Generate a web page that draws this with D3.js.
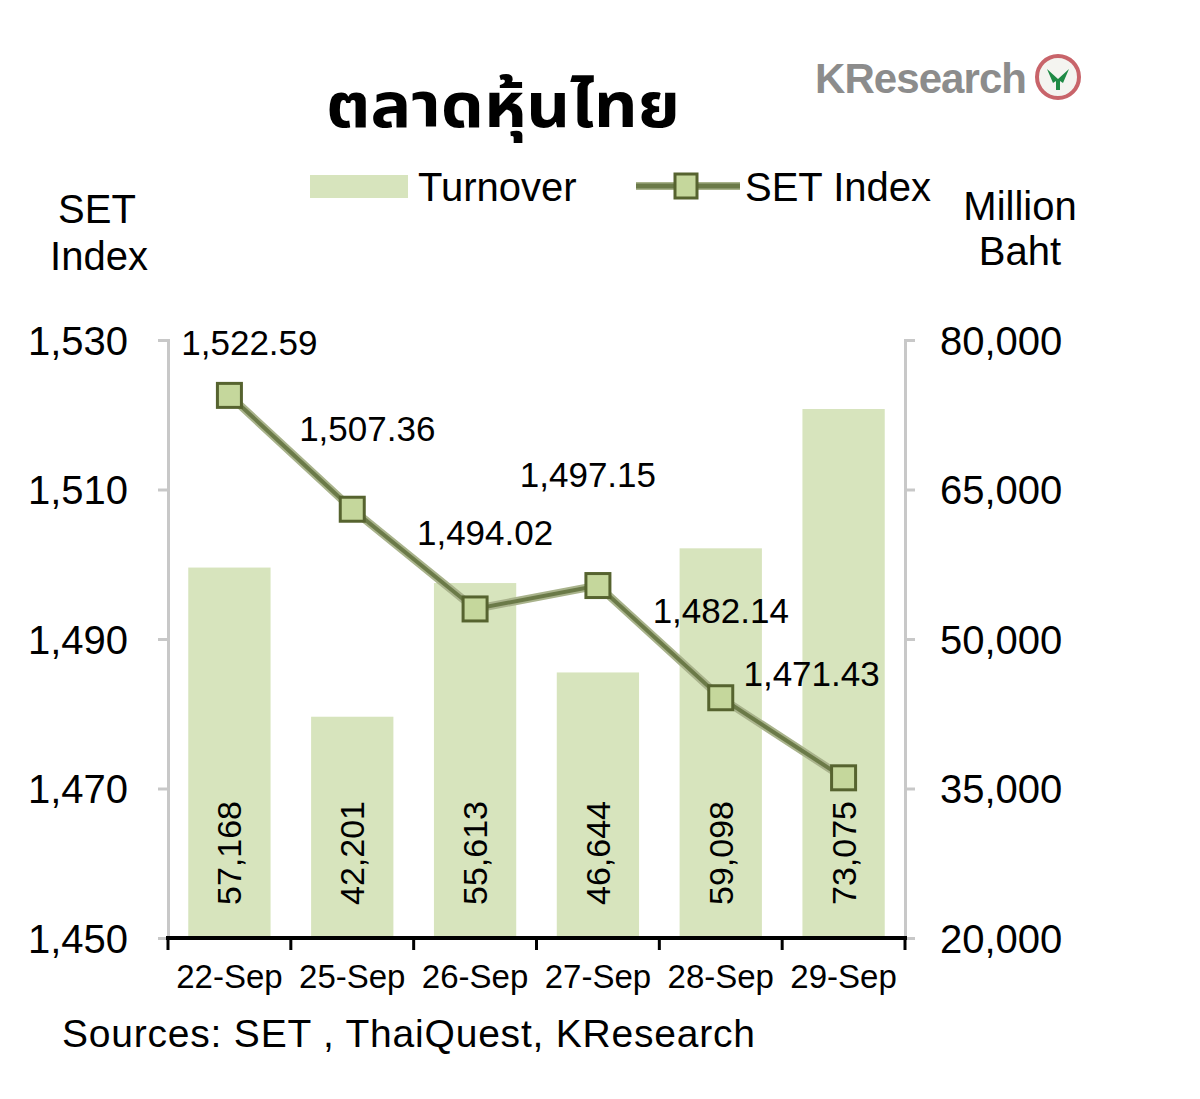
<!DOCTYPE html>
<html>
<head>
<meta charset="utf-8">
<script src="https://cdn.jsdelivr.net/npm/d3@7"></script>
<style>
  body { margin: 0; background: #fff; }
  text { font-family: "Liberation Sans", Arial, sans-serif; fill: #000; }
</style>
</head>
<body>
<script>
var w = 1200,
    h = 1099;

// data
const dates = ["22-Sep", "25-Sep", "26-Sep", "27-Sep", "28-Sep", "29-Sep"];
const turnover = [57168, 42201, 55613, 46644, 59098, 73075];
const setIndex = [1522.59, 1507.36, 1494.02, 1497.15, 1482.14, 1471.43];
const leftTicks = [1450, 1470, 1490, 1510, 1530];
const rightTicks = [20000, 35000, 50000, 65000, 80000];
// hand placed data labels, offset from marker (px)
const labelDx = [20, 15, 10, -10, 0, -32];
const labelDy = [-40, -68, -64, -99, -75, -92];

const barColor = "#d7e4bd",
      lineColor = "#6b7a48",
      markerFill = "#c5d79c",
      markerStroke = "#56632f",
      axisGray = "#c8c8c8";

var svg = d3.select("body").append("svg")
    .attr("width", w)
    .attr("height", h);

const x = d3.scaleBand().domain(dates).range([168, 905]).paddingInner(0.33).paddingOuter(0.165);
const yL = d3.scaleLinear().domain([1450, 1530]).range([938, 340]);
const yR = d3.scaleLinear().domain([20000, 80000]).range([938, 340]);
const cx = (d) => x(d) + x.bandwidth() / 2;

// title + logo
svg.append("text")
    .attr("x", 326).attr("y", 127)
    .attr("textLength", 354)
    .attr("lengthAdjust", "spacingAndGlyphs")
    .style("font-family", "'Noto Sans Thai', 'Noto Sans', 'DejaVu Sans', Tahoma, sans-serif")
    .style("font-weight", "bold")
    .style("font-size", "62px")
    .text("ตลาดหุ้นไทย");

svg.append("text")
    .attr("x", 815).attr("y", 93)
    .attr("textLength", 212)
    .style("font-weight", "bold")
    .style("font-size", "42px")
    .style("fill", "#8c8c8c")
    .text("KResearch");

var logo = svg.append("g").attr("transform", "translate(1058,77)");
logo.append("circle").attr("r", 21).attr("fill", "#f4f4f0")
    .attr("stroke", "#c8646a").attr("stroke-width", 4);
logo.append("path")
    .attr("d", "M-11,-8 L0,2 L11,-8 L5,6 L2,4 L2,13 L-2,13 L-2,4 L-5,6 Z")
    .attr("fill", "#1f8a45");

// legend
svg.append("rect").attr("x", 310).attr("y", 175).attr("width", 98).attr("height", 23).attr("fill", barColor);
svg.append("text").attr("x", 418).attr("y", 201).style("font-size", "40px").text("Turnover");
svg.append("line").attr("x1", 636).attr("x2", 740).attr("y1", 186).attr("y2", 186)
    .attr("stroke", "#a9b38c").attr("stroke-width", 8);
svg.append("line").attr("x1", 636).attr("x2", 740).attr("y1", 186).attr("y2", 186)
    .attr("stroke", lineColor).attr("stroke-width", 5);
svg.append("rect").attr("x", 675).attr("y", 174).attr("width", 22).attr("height", 24)
    .attr("fill", markerFill).attr("stroke", markerStroke).attr("stroke-width", 3);
svg.append("text").attr("x", 745).attr("y", 201).style("font-size", "40px").text("SET Index");

// axis titles
svg.append("text").attr("x", 97).attr("y", 223).attr("text-anchor", "middle").style("font-size", "40px").text("SET");
svg.append("text").attr("x", 99).attr("y", 270).attr("text-anchor", "middle").style("font-size", "40px").text("Index");
svg.append("text").attr("x", 1020).attr("y", 220).attr("text-anchor", "middle").style("font-size", "40px").text("Million");
svg.append("text").attr("x", 1020).attr("y", 265).attr("text-anchor", "middle").style("font-size", "40px").text("Baht");

// bars
svg.selectAll("rect.bar")
    .data(turnover)
    .enter().append("rect")
    .attr("class", "bar")
    .attr("x", (d, i) => x(dates[i]))
    .attr("width", x.bandwidth())
    .attr("y", (d) => yR(d))
    .attr("height", (d) => yR(20000) - yR(d))
    .attr("fill", barColor);

// bar value labels (rotated)
svg.selectAll("text.barlab")
    .data(turnover)
    .enter().append("text")
    .attr("class", "barlab")
    .attr("transform", (d, i) => "translate(" + (cx(dates[i]) + 12) + "," + 905 + ") rotate(-90)")
    .style("font-size", "34px")
    .text((d) => d3.format(",")(d));

// left axis
var leftAxis = svg.append("g")
    .attr("transform", "translate(168,0)")
    .call(d3.axisLeft(yL).tickValues(leftTicks).tickFormat(d3.format(",")).tickSize(10).tickPadding(30));
leftAxis.select(".domain").attr("stroke", axisGray).attr("stroke-width", 3);
leftAxis.selectAll(".tick line").attr("stroke", axisGray).attr("stroke-width", 3);
leftAxis.selectAll(".tick text").style("font-size", "40px").style("font-family", "'Liberation Sans', Arial, sans-serif").attr("fill", "#000").attr("dy", "0.36em");

// right axis
var rightAxis = svg.append("g")
    .attr("transform", "translate(905,0)")
    .call(d3.axisRight(yR).tickValues(rightTicks).tickFormat(d3.format(",")).tickSize(10).tickPadding(25));
rightAxis.select(".domain").attr("stroke", axisGray).attr("stroke-width", 3);
rightAxis.selectAll(".tick line").attr("stroke", axisGray).attr("stroke-width", 3);
rightAxis.selectAll(".tick text").style("font-size", "40px").style("font-family", "'Liberation Sans', Arial, sans-serif").attr("fill", "#000").attr("dy", "0.36em");

// bottom axis
svg.append("line").attr("x1", 166).attr("x2", 907).attr("y1", 938).attr("y2", 938)
    .attr("stroke", "#000").attr("stroke-width", 4);
const bounds = dates.map((d) => x(d) - x.step() * x.paddingInner() / 2).concat([905]);
svg.selectAll("line.xtick")
    .data(bounds)
    .enter().append("line")
    .attr("x1", (d) => d).attr("x2", (d) => d)
    .attr("y1", 938).attr("y2", 950)
    .attr("stroke", "#000").attr("stroke-width", 3);
svg.selectAll("text.xlab")
    .data(dates)
    .enter().append("text")
    .attr("x", (d) => cx(d))
    .attr("y", 988)
    .attr("text-anchor", "middle")
    .style("font-size", "33px")
    .text((d) => d);

// line
const line = d3.line().x((d, i) => cx(dates[i])).y((d) => yL(d));
svg.append("path").datum(setIndex)
    .attr("d", line).attr("fill", "none")
    .attr("stroke", "#a9b38c").attr("stroke-width", 8);
svg.append("path").datum(setIndex)
    .attr("d", line).attr("fill", "none")
    .attr("stroke", lineColor).attr("stroke-width", 4);

svg.selectAll("rect.marker")
    .data(setIndex)
    .enter().append("rect")
    .attr("x", (d, i) => cx(dates[i]) - 12)
    .attr("y", (d) => yL(d) - 12)
    .attr("width", 24).attr("height", 24)
    .attr("fill", markerFill).attr("stroke", markerStroke).attr("stroke-width", 3);

svg.selectAll("text.linelab")
    .data(setIndex)
    .enter().append("text")
    .attr("x", (d, i) => cx(dates[i]) + labelDx[i])
    .attr("y", (d, i) => yL(d) + labelDy[i])
    .attr("text-anchor", "middle")
    .style("font-size", "35px")
    .text((d) => d3.format(",.2f")(d));

// source
svg.append("text").attr("x", 62).attr("y", 1047)
    .attr("textLength", 693)
    .style("font-size", "39px")
    .text("Sources: SET , ThaiQuest, KResearch");
</script>
</body>
</html>
